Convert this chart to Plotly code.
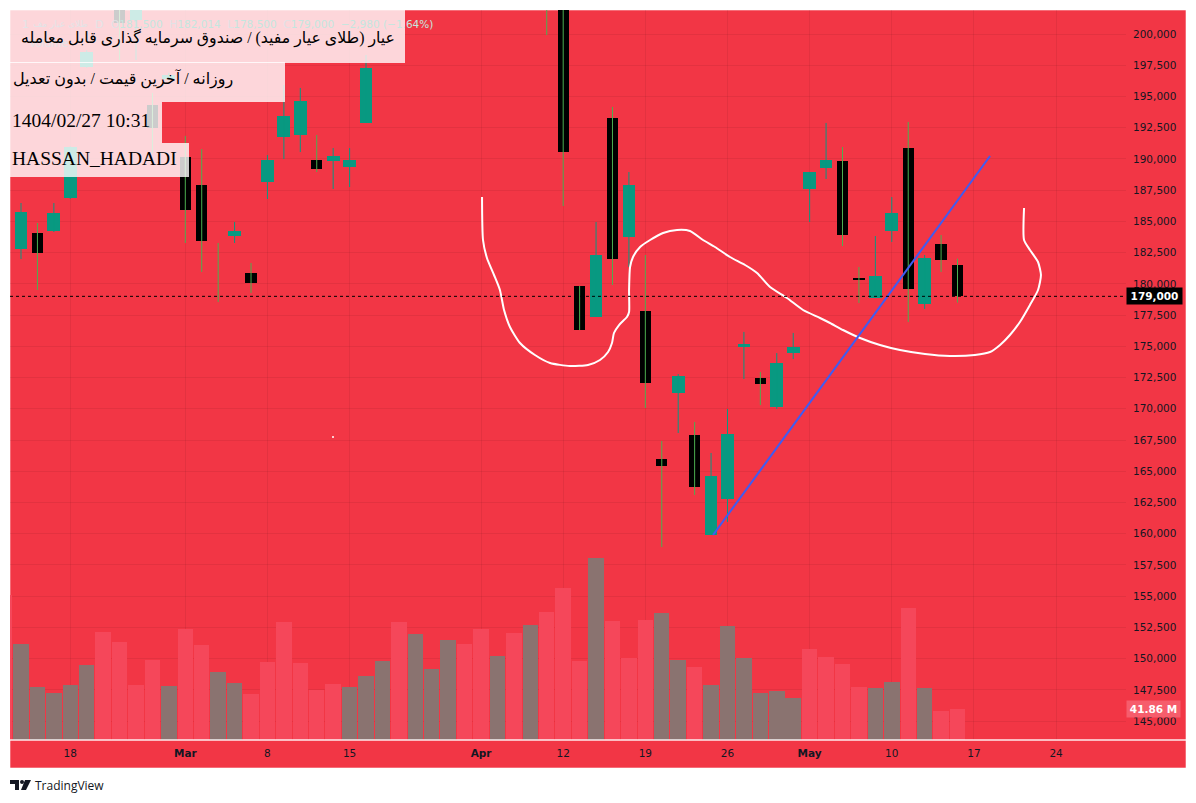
import plotly.graph_objects as go

# ---------------- data (trading-day index, prices in rial, volume in millions) ----------------
bar_idx = list(range(-1, 58))
opens = [187510, 182790, 184070, 184230, 186870, 197360, 202400, 203900, 201120, 194320,
         196400, 190150, 187910, 180950, 183830, 180870, 188150, 191760, 191920, 189910,
         189830, 189350, 192880, 203000, 205500, 208000, 207000, 209000, 212000, 214500,
         211000, 213000, 216000, 213500, 204000, 179830, 177350, 193280, 183750, 177830,
         165980, 171260, 167900, 159900, 162780, 174940, 172460, 170140, 174460, 187590,
         189270, 189830, 180420, 178870, 184230, 190870, 178390, 183190, 181500]
highs = [188000, 186470, 184870, 186470, 191000, 198700, 204800, 204500, 203900, 195280,
         196900, 191840, 190790, 183270, 184950, 181670, 190310, 195920, 195680, 191920,
         190870, 190870, 198320, 206000, 209000, 209500, 210000, 213000, 215500, 216000,
         214000, 217000, 218000, 214000, 205000, 179830, 184950, 194160, 188950, 182310,
         167420, 172780, 168940, 166460, 169980, 176150, 172940, 174460, 176070, 188950,
         192880, 190950, 181350, 183830, 186950, 192960, 182310, 183910, 182014]
lows = [177200, 181990, 179510, 184150, 186800, 197300, 202200, 197920, 197920, 190470,
        196200, 183270, 180950, 178550, 183270, 179270, 186790, 189990, 190550, 188950,
        187590, 187750, 192880, 202500, 205000, 206000, 206500, 208500, 211000, 210000,
        209500, 212000, 212500, 199920, 186230, 176300, 177350, 179910, 181350, 170060,
        158930, 168060, 163100, 159900, 160940, 172380, 170300, 169980, 173980, 184950,
        188390, 183030, 178470, 178870, 183350, 176950, 177990, 180950, 178500]
closes = [177510, 185750, 182470, 185670, 190950, 198560, 204200, 200880, 203400, 192480,
          196720, 185910, 183430, 180950, 184230, 180070, 189910, 193440, 194640, 189190,
          190230, 189910, 197280, 205500, 208000, 207000, 209000, 212000, 214500, 211000,
          213000, 216000, 213500, 204000, 190550, 176300, 182310, 181990, 187910, 172060,
          165420, 172620, 163740, 164620, 167980, 175190, 171980, 173660, 174940, 188950,
          189910, 183910, 180380, 180630, 185670, 179590, 182070, 181910, 179000]
volume_m = [195.8, 129.6, 71.6, 63.5, 74.3, 101.3, 145.8, 132.3, 74.3, 108.0,
            72.9, 149.9, 128.3, 91.8, 77.0, 62.1, 105.3, 159.3, 104.0, 67.5,
            75.6, 71.6, 86.4, 106.7, 159.3, 143.1, 95.9, 135.0, 129.6, 149.9,
            113.4, 144.5, 155.3, 172.8, 205.2, 106.7, 245.8, 160.7, 110.7, 162.0,
            171.5, 108.0, 98.6, 74.3, 153.9, 110.7, 63.5, 66.2, 56.7, 122.9,
            112.1, 102.6, 71.6, 70.2, 78.3, 178.2, 70.2, 39.2, 41.86]
volume_gray = [0, 1, 1, 1, 1, 1, 0, 0, 0, 0,
               1, 0, 0, 1, 1, 0, 0, 0, 0, 0,
               0, 1, 1, 1, 0, 1, 1, 1, 0, 0,
               1, 0, 1, 0, 0, 0, 1, 0, 0, 0,
               1, 1, 0, 1, 1, 1, 1, 1, 1, 0,
               0, 0, 0, 1, 1, 0, 1, 0, 0]

tick_idx = [3, 10, 15, 20, 28, 33, 38, 43, 48, 53, 58, 63]
tick_text = ["18", "<b>Mar</b>", "8", "15", "<b>Apr</b>", "12", "19", "26", "<b>May</b>", "10", "17", "24"]
price_ticks = list(range(145000, 200001, 2500))
last_close = 179000
last_volume_m = 41.86

# user drawings (bar index, price)
curve_x = [28.06, 28.12, 28.36, 28.79, 29.15, 29.40, 29.76, 30.37, 31.28, 32.20, 33.41, 34.51,
           35.24, 35.73, 35.97, 36.09, 36.40, 36.88, 37.01, 37.01, 37.07, 37.25, 37.68, 38.29,
           39.08, 39.93, 40.72, 41.51, 42.24, 43.15, 44.07, 44.80, 45.59, 46.62, 47.60, 48.63,
           49.24, 50.03, 51.07, 52.28, 53.50, 55.02, 56.54, 58.06, 58.98, 59.59, 60.19, 60.80,
           61.41, 61.90, 62.08, 61.90, 61.41, 61.05, 61.05]
curve_y = [186952, 183510, 182069, 180708, 179507, 177906, 176545, 175265, 174304, 173664, 173423, 173503,
           173904, 174544, 175265, 176065, 176705, 177346, 177746, 179507, 181348, 182149, 182949, 183510,
           184070, 184310, 184230, 183510, 182949, 182149, 181508, 180868, 179747, 178867, 177906, 177266,
           176866, 176305, 175665, 175105, 174704, 174384, 174224, 174304, 174544, 175105, 175905, 176946,
           178307, 179507, 180708, 181748, 182709, 183510, 186071]
trend_x = [42.12, 58.98]
trend_y = [159895, 190234]
dot_x = [18.99]
dot_y = [167740]

title_lines = ["عیار (طلای عیار مفید) / صندوق سرمایه گذاری قابل معامله",
               "روزانه / آخرین قیمت / بدون تعدیل",
               "1404/02/27 10:31",
               "HASSAN_HADADI"]

# ---------------- style ----------------
RED = "#f23645"
GREEN = "#089981"
WICK_DOWN = "#4caf50"
BLACK = "#000000"
VOL_GRAY = "#8a7370"
VOL_RED = "#f5475a"
GRID = "rgba(0,0,0,0.06)"
TXT = "#131722"
X_RANGE = [-0.6695, 67.255]
Y_RANGE = [143485, 201921]
VOL_RANGE = [0, 985.7]

fig = go.Figure()

# volume
fig.add_trace(go.Bar(x=bar_idx, y=volume_m, yaxis="y2", width=0.94,
                     marker=dict(color=[VOL_GRAY if g else VOL_RED for g in volume_gray], line=dict(width=0)),
                     hoverinfo="skip"))

# wicks
wu_x, wu_y, wd_x, wd_y = [], [], [], []
for i, o, h, l, c in zip(bar_idx, opens, highs, lows, closes):
    if c > o:
        wu_x += [i, i, None]; wu_y += [l, h, None]
    else:
        wd_x += [i, i, None]; wd_y += [l, h, None]
fig.add_trace(go.Scatter(x=wu_x, y=wu_y, mode="lines", line=dict(color=GREEN, width=1), hoverinfo="skip"))
fig.add_trace(go.Scatter(x=wd_x, y=wd_y, mode="lines", line=dict(color=WICK_DOWN, width=1), hoverinfo="skip"))

# bodies
ux = [i for i, o, c in zip(bar_idx, opens, closes) if c > o]
ub = [o for o, c in zip(opens, closes) if c > o]
uh = [c - o for o, c in zip(opens, closes) if c > o]
dx = [i for i, o, c in zip(bar_idx, opens, closes) if c <= o]
db = [c for o, c in zip(opens, closes) if c <= o]
dh = [o - c for o, c in zip(opens, closes) if c <= o]
fig.add_trace(go.Bar(x=ux, y=uh, base=ub, width=0.78, marker=dict(color=GREEN, line=dict(width=0)), hoverinfo="skip"))
fig.add_trace(go.Bar(x=dx, y=dh, base=db, width=0.68, marker=dict(color=BLACK, line=dict(width=0)), hoverinfo="skip"))

# drawings
fig.add_trace(go.Scatter(x=curve_x, y=curve_y, mode="lines",
                         line=dict(color="white", width=2, shape="spline", smoothing=0.6), hoverinfo="skip"))
fig.add_trace(go.Scatter(x=trend_x, y=trend_y, mode="lines", line=dict(color="#3f5cf2", width=2), hoverinfo="skip"))
fig.add_trace(go.Scatter(x=dot_x, y=dot_y, mode="markers", marker=dict(color="white", size=2), hoverinfo="skip"))

# page pixel -> paper coordinates (plot area spans page x 10..1126, y 10..740)
def px_x(p):
    return (p - 10) / 1116.0

def px_y(p):
    return (740 - p) / 730.0

shapes = [
    dict(type="rect", xref="paper", yref="paper", x0=0, x1=px_x(1186), y0=px_y(768), y1=1,
         fillcolor=RED, line=dict(color="rgba(255,255,255,0.55)", width=1), layer="below"),
    dict(type="line", xref="paper", yref="paper", x0=0, x1=px_x(1186), y0=0, y1=0,
         line=dict(color="rgba(255,255,255,0.9)", width=1.5)),
    dict(type="line", xref="paper", yref="y", x0=0, x1=1, y0=last_close, y1=last_close,
         line=dict(color="black", width=1, dash="dot")),
]
box_color = "rgba(255,255,255,0.8)"
for (x1, y0, y1) in [(405, 10, 63), (285, 62, 102), (162, 102, 143), (189, 143, 177)]:
    shapes.append(dict(type="rect", xref="paper", yref="paper", x0=0, x1=px_x(x1),
                       y0=px_y(y1), y1=px_y(y0), fillcolor=box_color, line=dict(width=0), layer="above"))

# tradingview logo
shapes.append(dict(type="path", xref="paper", yref="paper",
                   path="M %f,%f L %f,%f L %f,%f L %f,%f L %f,%f L %f,%f Z" % (
                       px_x(10), px_y(780), px_x(19), px_y(780), px_x(19), px_y(790),
                       px_x(15), px_y(790), px_x(15), px_y(784), px_x(10), px_y(784)),
                   fillcolor="#131722", line=dict(width=0)))
shapes.append(dict(type="circle", xref="paper", yref="paper", x0=px_x(20), x1=px_x(24),
                   y0=px_y(784), y1=px_y(780), fillcolor="#131722", line=dict(width=0)))
shapes.append(dict(type="path", xref="paper", yref="paper",
                   path="M %f,%f L %f,%f L %f,%f L %f,%f Z" % (
                       px_x(25), px_y(780), px_x(31), px_y(780), px_x(26), px_y(790), px_x(21), px_y(790)),
                   fillcolor="#131722", line=dict(width=0)))

AR = "Times New Roman, Liberation Serif, DejaVu Sans"
annotations = [
    dict(xref="paper", yref="paper", x=px_x(20), y=px_y(24), xanchor="left", yanchor="middle",
         text="1", showarrow=False, font=dict(family="DejaVu Sans", size=11, color="#e3e4e7")),
    dict(xref="paper", yref="paper", x=px_x(90), y=px_y(24), xanchor="right", yanchor="middle",
         text="طلای عیار مف", showarrow=False, font=dict(family="DejaVu Sans", size=9, color="#e3e4e7")),
    dict(xref="paper", yref="paper", x=px_x(93), y=px_y(24), xanchor="left", yanchor="middle",
         text="D", showarrow=False, font=dict(family="DejaVu Sans", size=11, color="#e3e4e7")),
    dict(xref="paper", yref="paper", x=px_x(109), y=px_y(24), xanchor="left", yanchor="middle",
         text=("<span style='color:#e0e2e6'>O</span>181,500  <span style='color:#e0e2e6'>H</span>182,014  "
               "<span style='color:#e0e2e6'>L</span>178,500  <span style='color:#e0e2e6'>C</span>179,000  "
               "−2,980 (−1.64%)"),
         showarrow=False, font=dict(family="DejaVu Sans", size=10.5, color="#c4e6df")),
    dict(xref="paper", yref="paper", x=px_x(27), y=px_y(43), xanchor="left", yanchor="middle",
         text="Volume", showarrow=False, font=dict(family="DejaVu Sans", size=10.5, color="#e3e4e7")),
    dict(xref="paper", yref="paper", x=px_x(397), y=px_y(38), xanchor="right", yanchor="middle",
         text=title_lines[0], showarrow=False, font=dict(family=AR, size=15.8, color="black")),
    dict(xref="paper", yref="paper", x=px_x(235), y=px_y(79), xanchor="right", yanchor="middle",
         text=title_lines[1], showarrow=False, font=dict(family=AR, size=16, color="black")),
    dict(xref="paper", yref="paper", x=px_x(10), y=px_y(121), xanchor="left", yanchor="middle",
         text=title_lines[2], showarrow=False, font=dict(family="Liberation Serif", size=19.5, color="black")),
    dict(xref="paper", yref="paper", x=px_x(10), y=px_y(158), xanchor="left", yanchor="middle",
         text=title_lines[3], showarrow=False, font=dict(family="Liberation Serif", size=19.5, color="black")),
    dict(xref="paper", yref="y", x=px_x(1126), y=last_close, xanchor="left", yanchor="middle",
         text="<b>{:,}</b>".format(last_close), showarrow=False, bgcolor="black", borderpad=2,
         width=51, height=12, font=dict(family="DejaVu Sans", size=10.5, color="white")),
    dict(xref="paper", yref="y2", x=px_x(1126), y=last_volume_m, xanchor="left", yanchor="middle",
         text="<b>{:.2f} M</b>".format(last_volume_m), showarrow=False, bgcolor="#f65d6c", borderpad=2,
         width=49, height=12, font=dict(family="DejaVu Sans", size=10.5, color="white")),
    dict(xref="paper", yref="paper", x=px_x(33), y=px_y(785), xanchor="left", yanchor="middle",
         text="TradingView", showarrow=False, font=dict(family="Open Sans", size=12, color="#131722")),
]

# the page body has an 8px margin, so the figure is sized and offset to fit the 1196x803 window
fig.update_layout(
    width=1188, height=795,
    margin=dict(l=2, r=70, t=2, b=63, autoexpand=False),
    paper_bgcolor="white", plot_bgcolor=RED,
    barmode="overlay", bargap=0, showlegend=False,
    shapes=shapes, annotations=annotations,
    xaxis=dict(range=X_RANGE, tickvals=tick_idx, ticktext=tick_text, showgrid=True, gridcolor=GRID,
               gridwidth=1, zeroline=False, showline=False, ticks="", ticklabelstandoff=5,
               tickfont=dict(family="DejaVu Sans", size=10.5, color=TXT), fixedrange=True),
    yaxis=dict(range=Y_RANGE, side="right", tickvals=price_ticks, tickformat=",", showgrid=True,
               gridcolor=GRID, gridwidth=1, zeroline=False, showline=False, ticks="", ticklabelstandoff=6,
               tickfont=dict(family="DejaVu Sans", size=10.5, color=TXT), fixedrange=True),
    yaxis2=dict(range=VOL_RANGE, overlaying="y", visible=False, fixedrange=True),
)

fig.write_html("out.html", config={"displayModeBar": False})
